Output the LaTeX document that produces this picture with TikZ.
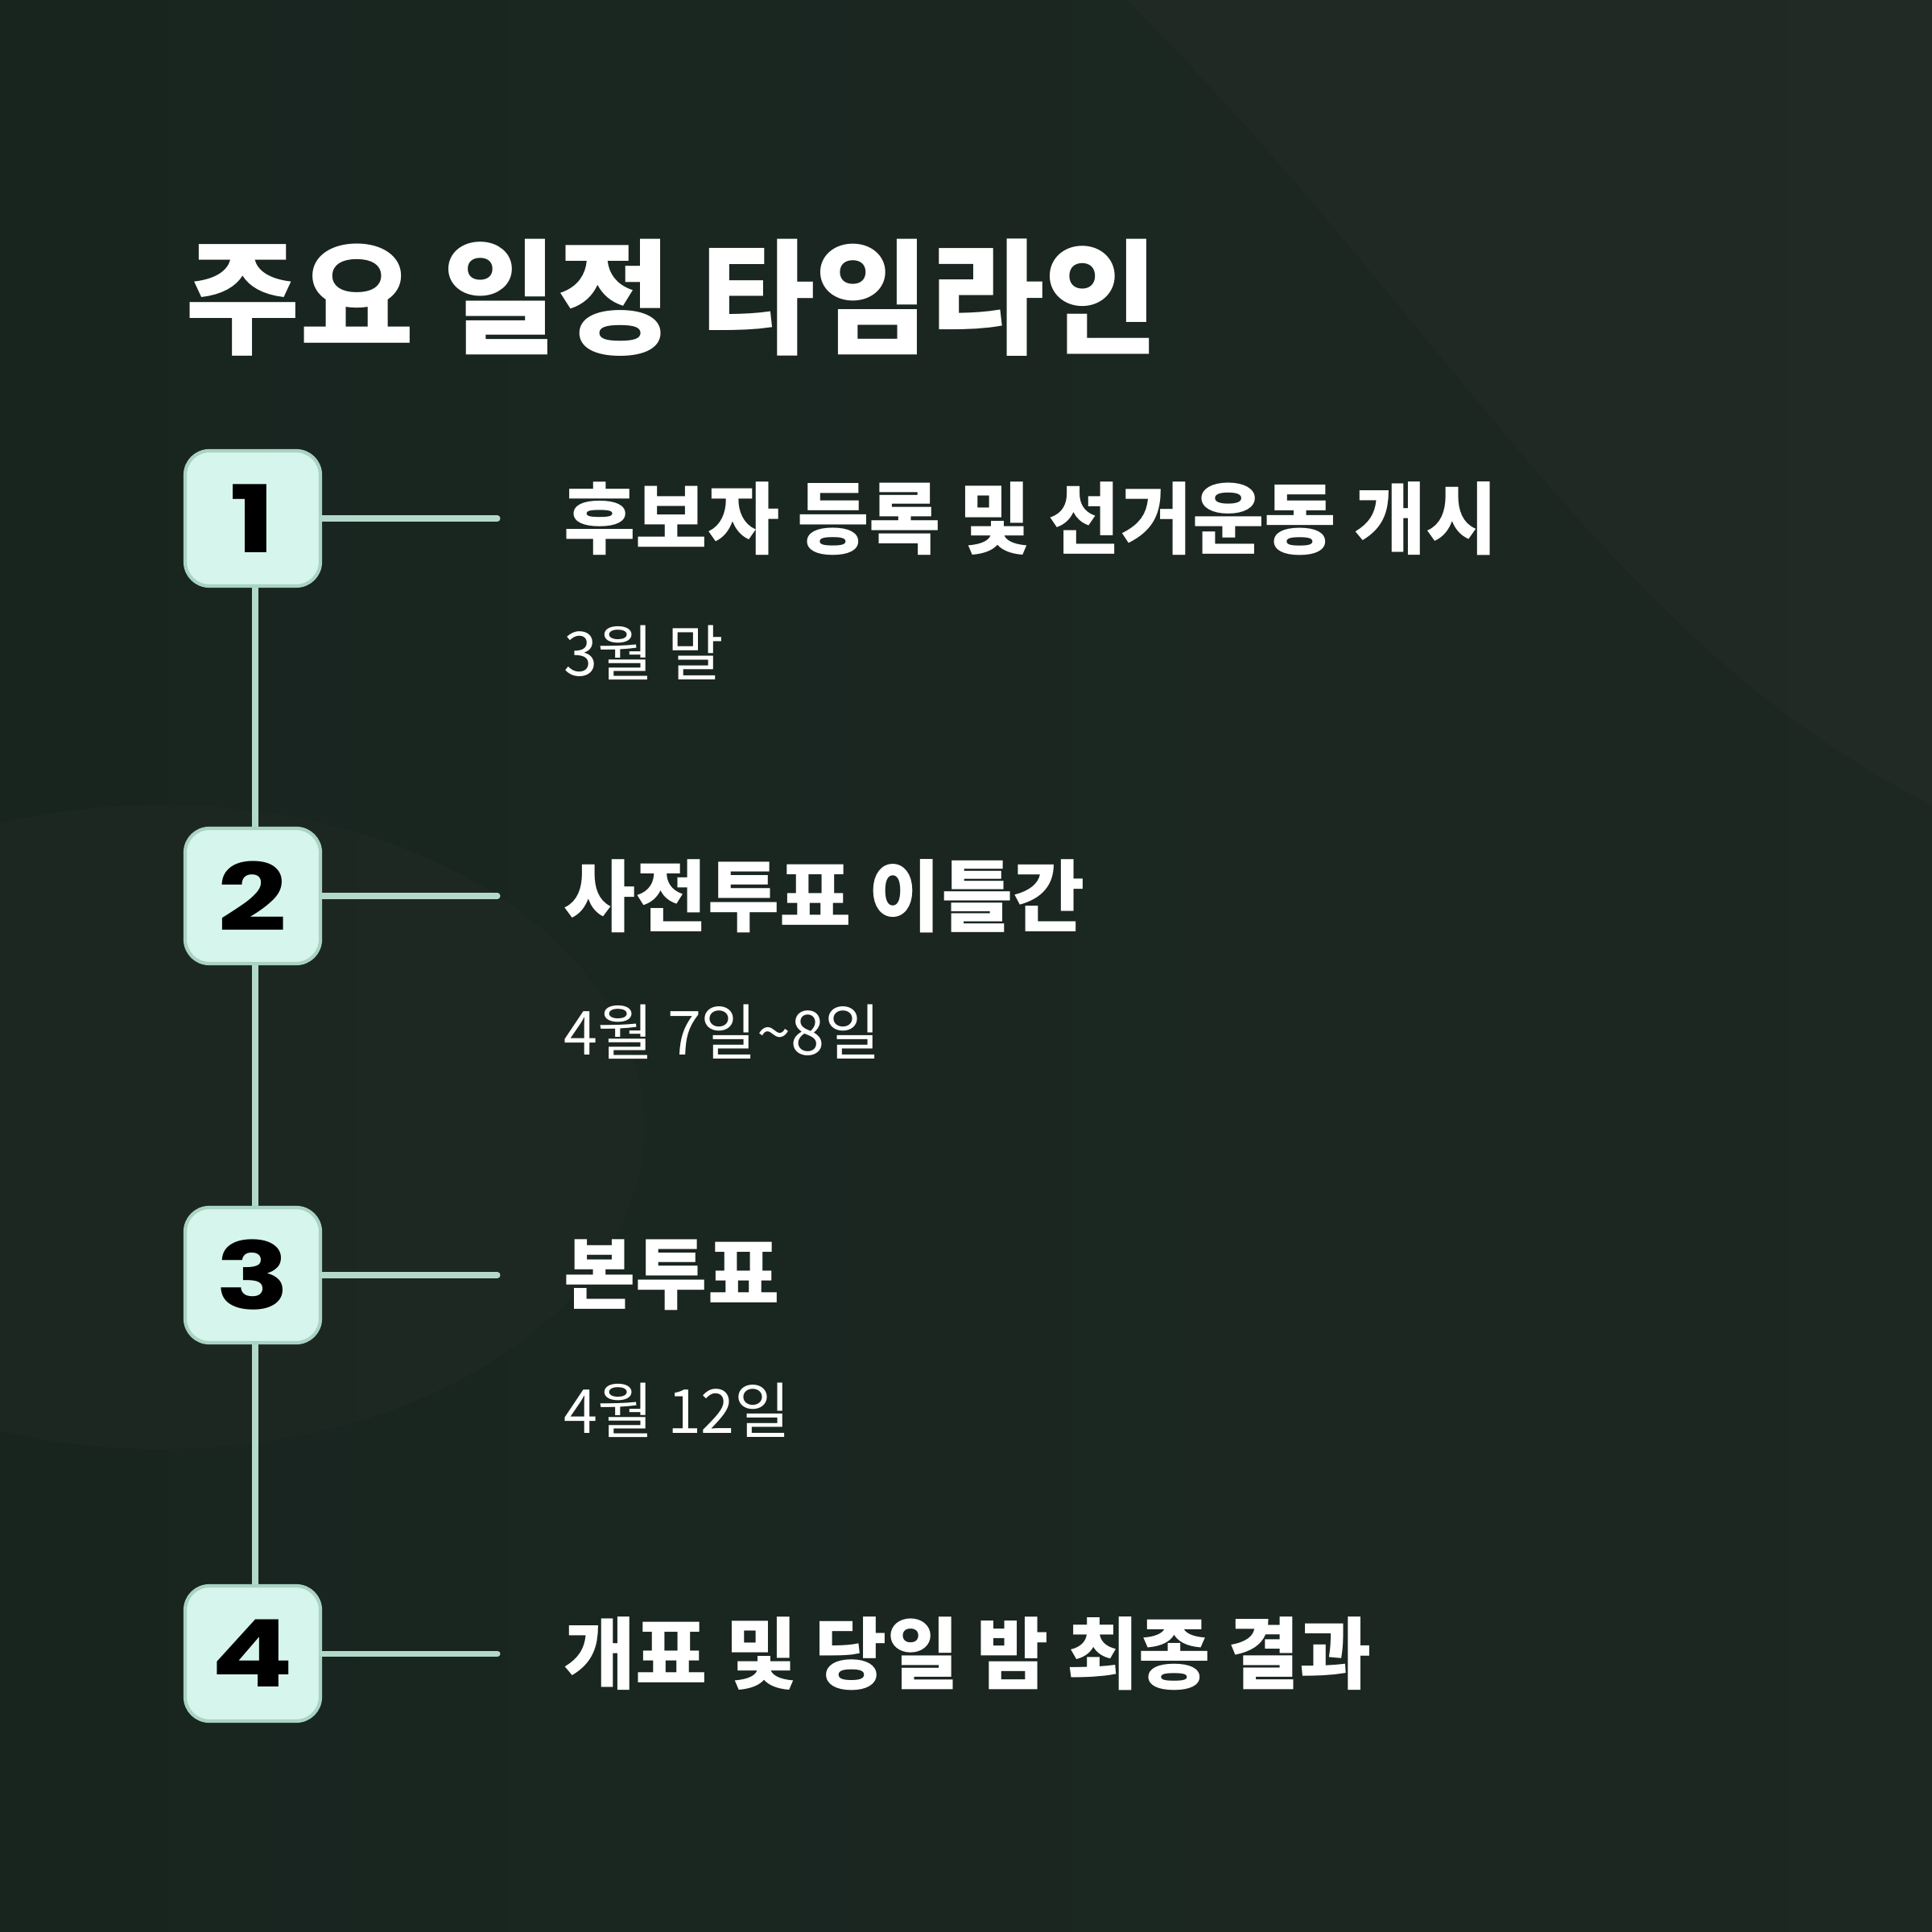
\documentclass[tikz,border=0pt]{standalone}
\usepackage{fontspec}
\setmainfont{Poppins}
\newfontfamily\kr{Noto Sans CJK KR}
\definecolor{bgA}{HTML}{18251F}
\definecolor{bgB}{HTML}{2B2E2B}
\definecolor{boxfill}{HTML}{D6F5EC}
\definecolor{boxline}{HTML}{A9D3C3}
\definecolor{conn}{HTML}{B3D9CB}
\tikzset{
 numbox/.style={draw=boxline,line width=1.2pt,fill=boxfill,rounded corners=0.3cm,minimum width=1.68cm,minimum height=1.68cm,inner sep=0pt,font=\fontsize{33}{33}\selectfont\bfseries,text=black},
 conline/.style={draw=conn,line width=2pt},
 head/.style={anchor=west,text=white,font=\kr\fontsize{27.6}{30}\selectfont\bfseries,inner sep=0pt},
 sub/.style={anchor=west,text=white,font=\kr\fontsize{21.5}{24}\selectfont,inner sep=0pt},
}
\begin{document}
\begin{tikzpicture}[y=-1cm]
\useasboundingbox (0,0) rectangle (24,24);
\shade[left color=bgA,right color=bgA!70!bgB] (0,0) rectangle (24,24);
\fill[bgB,opacity=0.35] (24,0) -- (14,0) .. controls (18,4) and (20,8) .. (24,10) -- cycle;
\fill[bgB,opacity=0.25] (2,14) ellipse (6cm and 4cm);
\node[anchor=west,text=white,font=\kr\fontsize{44}{48}\selectfont\bfseries,inner sep=0pt] (title) at (2.3,3.7) {주요 일정 타임라인};
\foreach \i/\y/\h in {1/6.44/후보자 등록 및 선거운동 개시,2/11.13/사전투표 이틀간,3/15.84/본투표,4/20.54/개표 및 당일 밤 최종 결과}{
  \coordinate (e\i) at (6.18,\y);
  \node[head] (h\i) at (7.0,\y) {\h};
}
\node[sub] (s1) at (7.0,8.11) {3월 말};
\node[sub] (s2) at (7.0,12.82) {4월 7일\textasciitilde 8일};
\node[sub] (s3) at (7.0,17.52) {4월 12일};
\draw[conline] (3.17,6.44) -- (3.17,20.54);
\foreach \i/\y in {1/6.44,2/11.13,3/15.84,4/20.54}{
  \node[numbox] (b\i) at (3.14,\y) {\scalebox{1.3}[1]{\i}};
  \draw[conline,line cap=round] (b\i.east) -- (e\i);
}
\end{tikzpicture}
\end{document}
